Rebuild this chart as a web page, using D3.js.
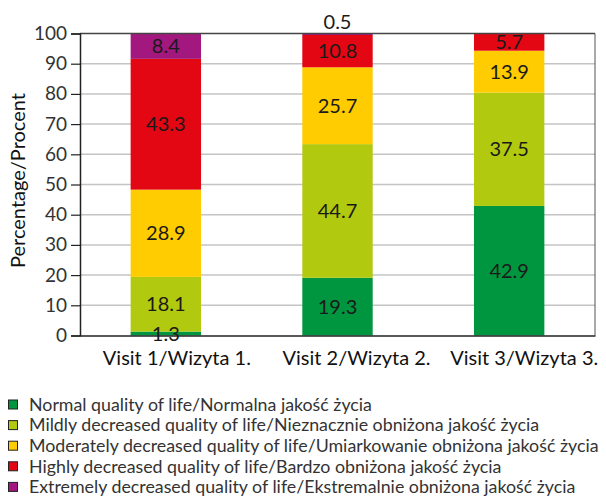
<!DOCTYPE html>
<html>
<head>
<meta charset="utf-8">
<script src="https://cdn.jsdelivr.net/npm/d3@7"></script>
<style>
  body { margin: 0; background: #fff; }
  text { font-family: Lato, "Open Sans", sans-serif; }
</style>
</head>
<body>
<svg id="chart" width="606" height="497"></svg>
<script>
// categories and series
let visits = ["Visit 1/Wizyta 1.", "Visit 2/Wizyta 2.", "Visit 3/Wizyta 3."];
let normal = [1.3, 19.3, 42.9];
let mild = [18.1, 44.7, 37.5];
let moderate = [28.9, 25.7, 13.9];
let high = [43.3, 10.8, 5.7];
let extreme = [8.4, 0.5, 0];
let seriesNames = [
    "Normal quality of life/Normalna jakość życia",
    "Mildly decreased quality of life/Nieznacznie obniżona jakość życia",
    "Moderately decreased quality of life/Umiarkowanie obniżona jakość życia",
    "Highly decreased quality of life/Bardzo obniżona jakość życia",
    "Extremely decreased quality of life/Ekstremalnie obniżona jakość życia"
];
let yTicks = [0, 10, 20, 30, 40, 50, 60, 70, 80, 90, 100];

let colors = ["#00963f", "#b1c90e", "#fecc00", "#e30613", "#a3187f"];

let svg = d3.select("#chart");
let margin = {left: 80, right: 11, top: 33.5, bottom: 161.5};
let width = 606 - margin.left - margin.right,
    height = 497 - margin.top - margin.bottom;

// build rows for stacking
let keys = ["normal", "mild", "moderate", "high", "extreme"];
let rows = visits.map((v, i) => ({
    visit: v, normal: normal[i], mild: mild[i], moderate: moderate[i],
    high: high[i], extreme: extreme[i]
}));

// 100% stacked (visit 2 sums to 101)
let stacked = d3.stack().keys(keys).offset(d3.stackOffsetExpand)(rows);

let x = d3.scaleBand().domain(visits).range([0, width]).paddingInner(0.59).paddingOuter(0.295);
let y = d3.scaleLinear().domain([0, 100]).range([height, 0]);

let g = svg.append("g").attr("transform", `translate(${margin.left},${margin.top})`);

// gridlines
g.append("g")
    .selectAll("line")
    .data(yTicks.slice(1, -1))
    .join("line")
    .attr("x1", 0).attr("x2", width)
    .attr("y1", d => y(d)).attr("y2", d => y(d))
    .attr("stroke", "#c4c4c4")
    .attr("stroke-width", 1.5);

// bars
let layers = g.append("g")
    .selectAll("g")
    .data(stacked)
    .join("g")
    .attr("fill", (d, i) => colors[i]);

layers.selectAll("rect")
    .data(d => d)
    .join("rect")
    .attr("x", d => x(d.data.visit))
    .attr("width", x.bandwidth())
    .attr("y", d => y(d[1] * 100))
    .attr("height", d => y(d[0] * 100) - y(d[1] * 100));

// frame: top and right
g.append("line").attr("x1", 0).attr("x2", width).attr("y1", 0).attr("y2", 0)
    .attr("stroke", "#444").attr("stroke-width", 1.3);
g.append("line").attr("x1", width).attr("x2", width).attr("y1", 0).attr("y2", height)
    .attr("stroke", "#555").attr("stroke-width", 1);

// y axis
let yAxis = g.append("g")
    .call(d3.axisLeft(y).tickValues(yTicks).tickSize(9).tickPadding(4));
yAxis.select(".domain").attr("stroke", "#222").attr("stroke-width", 1.5);
yAxis.selectAll(".tick line").attr("stroke", "#222").attr("stroke-width", 1.2);
yAxis.selectAll(".tick text")
    .attr("font-size", 19)
    .attr("fill", "#333")
    .attr("font-family", "Lato, sans-serif");

// x axis
let xAxis = g.append("g")
    .attr("transform", `translate(0,${height})`)
    .call(d3.axisBottom(x).tickSize(0).tickPadding(15));
xAxis.select(".domain").attr("stroke", "#222").attr("stroke-width", 1.5);
xAxis.selectAll(".tick text")
    .attr("font-size", 20)
    .attr("dx", (d, i) => [11, 19, 15][i])
    .attr("fill", "#111")
    .attr("font-family", "Lato, sans-serif");

// value labels (on top of axes)
let labelGroup = g.append("g");
stacked.forEach((layer, li) => {
    labelGroup.append("g")
        .selectAll("text")
        .data(layer.map((d, i) => ({d: d, v: rows[i][keys[li]]})).filter(e => e.v > 0))
        .join("text")
        .attr("x", e => x(e.d.data.visit) + x.bandwidth() / 2)
        .attr("y", e => e.v < 1 ? y(e.d[1] * 100) - 12 : y((e.d[0] + e.d[1]) * 50))
        .attr("dy", "0.35em")
        .attr("text-anchor", "middle")
        .attr("font-size", 20)
        .attr("fill", "#1a1a1a")
        .text(e => e.v.toFixed(1));
});

// y title
svg.append("text")
    .attr("transform", `translate(25,${margin.top + height / 2 - 4}) rotate(-90)`)
    .attr("text-anchor", "middle")
    .attr("font-size", 20)
    .attr("fill", "#111")
    .text("Percentage/Procent");

// legend
let legend = svg.append("g")
    .selectAll("g")
    .data(seriesNames)
    .join("g")
    .attr("transform", (d, i) => `translate(8,${404.5 + i * 20.6})`);

legend.append("rect")
    .attr("x", 0.5).attr("y", -4.5)
    .attr("width", 9).attr("height", 9)
    .attr("fill", (d, i) => colors[i])
    .attr("stroke", "#222")
    .attr("stroke-width", 1);

legend.append("text")
    .attr("x", 21)
    .attr("dy", "0.35em")
    .attr("font-size", 17.8)
    .attr("fill", "#333")
    .text(d => d);
</script>
</body>
</html>
